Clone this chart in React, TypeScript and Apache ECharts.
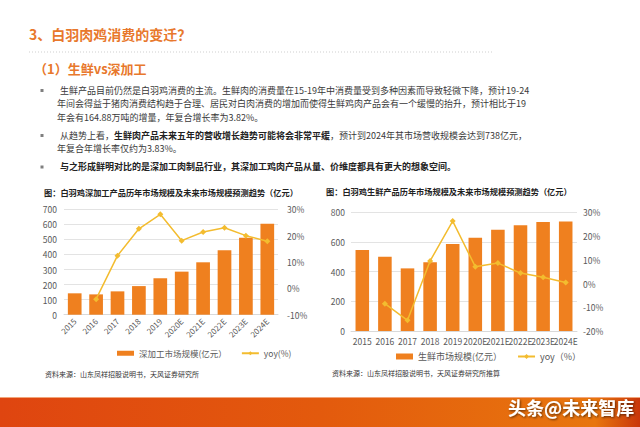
import React, { useEffect, useRef } from "react";
import * as echarts from "echarts";

const years = ["2015", "2016", "2017", "2018", "2019", "2020E", "2021E", "2022E", "2023E", "2024E"];
const deepValues = [142, 135, 155, 190, 242, 286, 348, 428, 511, 604];
const deepYoy = [null, -4.1, 12.4, 22.6, 28.1, 18.1, 21.4, 23.0, 20.0, 17.9];
const freshValues = [546, 501, 422, 463, 586, 629, 683, 712, 734, 738];
const freshYoy = [null, -8.5, -15.5, 9.5, 26.3, 7.1, 8.6, 4.4, 2.6, 0.4];

const deepName = "深加工市场规模(亿元）";
const deepYoyName = "yoy(%)";
const freshName = "生鲜市场规模(亿元）";
const freshYoyName = "yoy（%）";

const titleText = "3、白羽肉鸡消费的变迁？";
const subTitleText = "（1）生鲜vs深加工";
const bullet1 = [
  "生鲜产品目前仍然是白羽鸡消费的主流。生鲜肉的消费量在15-19年中消费量受到多种因素而导致轻微下降，预计19-24",
  "年间会得益于猪肉消费结构趋于合理、居民对白肉消费的增加而使得生鲜鸡肉产品会有一个缓慢的抬升，预计相比于19",
  "年会有164.88万吨的增量，年复合增长率为3.82%。",
];
const bullet2 = [
  "从趋势上看，{b|生鲜肉产品未来五年的营收增长趋势可能将会非常平缓}，预计到2024年其市场营收规模会达到738亿元，",
  "年复合年增长率仅约为3.83%。",
];
const bullet3 = ["{b|与之形成鲜明对比的是深加工肉制品行业，其深加工鸡肉产品从量、价维度都具有更大的想象空间。}"];
const leftChartTitle = "图：白羽鸡深加工产品历年市场规模及未来市场规模预测趋势（亿元）";
const rightChartTitle = "图：白羽鸡生鲜产品历年市场规模及未来市场规模预测趋势（亿元）";
const leftSource = "资料来源：山东凤祥招股说明书，天风证券研究所";
const rightSource = "资料来源：山东凤祥招股说明书，天风证券研究所推算";
const watermark = "头条@未来智库";

const FONT = '"Noto Sans CJK SC", "Noto Sans", sans-serif';
const ORANGE = "#E8782C";
const BAR = "#EF801F";
const LINE = "#F3BC2F";
const AXIS_TXT = "#595959";
const BODY = "#3a3a3a";

function txt(x: number, y: number, text: string, size: number, color: string, weight = "normal", extra: any = {}) {
  return {
    type: "text",
    x,
    y,
    silent: true,
    style: {
      text,
      fill: color,
      fontSize: size,
      fontWeight: weight,
      fontFamily: FONT,
      verticalAlign: "middle",
      ...extra,
    },
  };
}

const rich = { b: { fontWeight: "bold", fontSize: 9, fontFamily: FONT, fill: "#222" } };

export default function App() {
  const ref = useRef<HTMLDivElement>(null);
  useEffect(() => {
    if (!ref.current) return;
    const chart = echarts.init(ref.current, null, { renderer: "svg" });
    const graphics: any[] = [];
    graphics.push(txt(29, 34, titleText, 14, ORANGE, "bold"));
    graphics.push({
      type: "line",
      silent: true,
      shape: { x1: 29, y1: 52, x2: 493, y2: 52 },
      style: { stroke: "#cfcfcf", lineWidth: 1, lineDash: [1, 2] },
    });
    graphics.push(txt(34, 68, subTitleText, 13, ORANGE, "bold"));
    const bulletYs = [90.5, 135.5, 167];
    bulletYs.forEach((y) =>
      graphics.push({ type: "rect", silent: true, shape: { x: 40.5, y: y - 1.5, width: 3, height: 3 }, style: { fill: "#7f7f7f" } })
    );
    const lineYs1 = [90, 103.5, 117];
    bullet1.forEach((t, i) => graphics.push(txt(i === 0 ? 60 : 57, lineYs1[i], t, 9, BODY)));
    const lineYs2 = [135, 148];
    bullet2.forEach((t, i) => graphics.push(txt(i === 0 ? 60 : 57, lineYs2[i], t, 9, BODY, "normal", { rich })));
    graphics.push(txt(60, 166.5, bullet3[0], 9, BODY, "normal", { rich }));

    graphics.push(txt(44, 192, leftChartTitle, 8.2, "#222", "bold"));
    graphics.push(txt(326, 191, rightChartTitle, 8.2, "#222", "bold"));
    graphics.push(txt(45, 373.5, leftSource, 7, "#333"));
    graphics.push(txt(332, 373, rightSource, 7, "#333"));

    graphics.push({
      type: "rect",
      silent: true,
      shape: { x: 0, y: 397, width: 640, height: 30 },
      style: {
        fill: {
          type: "linear", x: 0, y: 0, x2: 1, y2: 0,
          colorStops: [
            { offset: 0, color: "#DF4510" },
            { offset: 0.5, color: "#E35A0D" },
            { offset: 0.93, color: "#E8760E" },
            { offset: 1, color: "#C9360B" },
          ],
        },
      },
    });
    graphics.push({
      type: "line",
      silent: true,
      shape: { x1: 0, y1: 397.5, x2: 640, y2: 397.5 },
      style: { stroke: "#F2A57A", lineWidth: 1 },
    });
    graphics.push(
      txt(508, 407, watermark, 18, "#ffffff", "bold", {
        textShadowColor: "rgba(0,0,0,0.6)",
        textShadowBlur: 2,
        textShadowOffsetX: 1,
        textShadowOffsetY: 1,
      })
    );

    const axisLabel = { color: AXIS_TXT, fontFamily: FONT };
    chart.setOption({
      animation: false,
      backgroundColor: "#ffffff",
      textStyle: { fontFamily: FONT },
      graphic: graphics,
      grid: [
        { left: 64, top: 209.3, width: 214, height: 105.4 },
        { left: 351, top: 212.3, width: 226, height: 118.7 },
      ],
      legend: [
        {
          data: [{ name: deepName, icon: "rect" }, deepYoyName],
          left: 112,
          top: 344,
          itemWidth: 17,
          itemHeight: 5,
          itemGap: 14,
          textStyle: { fontSize: 8.5, color: AXIS_TXT, fontFamily: FONT },
        },
        {
          data: [{ name: freshName, icon: "rect" }, freshYoyName],
          left: 391,
          top: 347,
          itemWidth: 17,
          itemHeight: 6,
          itemGap: 15,
          textStyle: { fontSize: 9, color: AXIS_TXT, fontFamily: FONT },
        },
      ],
      xAxis: [
        {
          type: "category",
          gridIndex: 0,
          data: years,
          axisTick: { show: false },
          axisLine: { lineStyle: { color: "#d9d9d9" } },
          axisLabel: { ...axisLabel, fontSize: 8, rotate: 45, interval: 0, margin: 5 },
        },
        {
          type: "category",
          gridIndex: 1,
          data: years,
          axisTick: { show: false },
          axisLine: { lineStyle: { color: "#d9d9d9" } },
          axisLabel: { ...axisLabel, fontSize: 8.5, interval: 0, margin: 6, hideOverlap: false },
        },
      ],
      yAxis: [
        {
          type: "value",
          gridIndex: 0,
          min: 0,
          max: 700,
          interval: 100,
          axisLine: { show: false },
          axisTick: { show: false },
          splitLine: { lineStyle: { color: "#e3e3e3" } },
          axisLabel: { ...axisLabel, fontSize: 8.5, margin: 7 },
        },
        {
          type: "value",
          gridIndex: 0,
          position: "right",
          min: -10,
          max: 30,
          interval: 10,
          axisLine: { show: false },
          axisTick: { show: false },
          splitLine: { show: false },
          axisLabel: { ...axisLabel, fontSize: 8.5, margin: 9, formatter: "{value}%" },
        },
        {
          type: "value",
          gridIndex: 1,
          min: 0,
          max: 800,
          interval: 200,
          axisLine: { show: false },
          axisTick: { show: false },
          splitLine: { lineStyle: { color: "#e3e3e3" } },
          axisLabel: { ...axisLabel, fontSize: 8.5, margin: 6 },
        },
        {
          type: "value",
          gridIndex: 1,
          position: "right",
          min: -20,
          max: 30,
          interval: 10,
          axisLine: { show: false },
          axisTick: { show: false },
          splitLine: { show: false },
          axisLabel: { ...axisLabel, fontSize: 8.5, margin: 6, formatter: "{value}%" },
        },
      ],
      series: [
        {
          name: deepName,
          type: "bar",
          xAxisIndex: 0,
          yAxisIndex: 0,
          data: deepValues,
          barWidth: "64%",
          itemStyle: { color: BAR },
        },
        {
          name: deepYoyName,
          type: "line",
          xAxisIndex: 0,
          yAxisIndex: 1,
          data: deepYoy,
          symbol: "diamond",
          symbolSize: 6,
          lineStyle: { color: LINE, width: 1.5 },
          itemStyle: { color: LINE },
        },
        {
          name: freshName,
          type: "bar",
          xAxisIndex: 1,
          yAxisIndex: 2,
          data: freshValues,
          barWidth: "60%",
          itemStyle: { color: BAR },
        },
        {
          name: freshYoyName,
          type: "line",
          xAxisIndex: 1,
          yAxisIndex: 3,
          data: freshYoy,
          symbol: "diamond",
          symbolSize: 6,
          lineStyle: { color: LINE, width: 1.5 },
          itemStyle: { color: LINE },
        },
      ],
    });
    return () => chart.dispose();
  }, []);
  return (
    <div
      ref={ref}
      style={{ position: "absolute", left: 0, top: 0, width: 640, height: 427, background: "#fff" }}
    />
  );
}
